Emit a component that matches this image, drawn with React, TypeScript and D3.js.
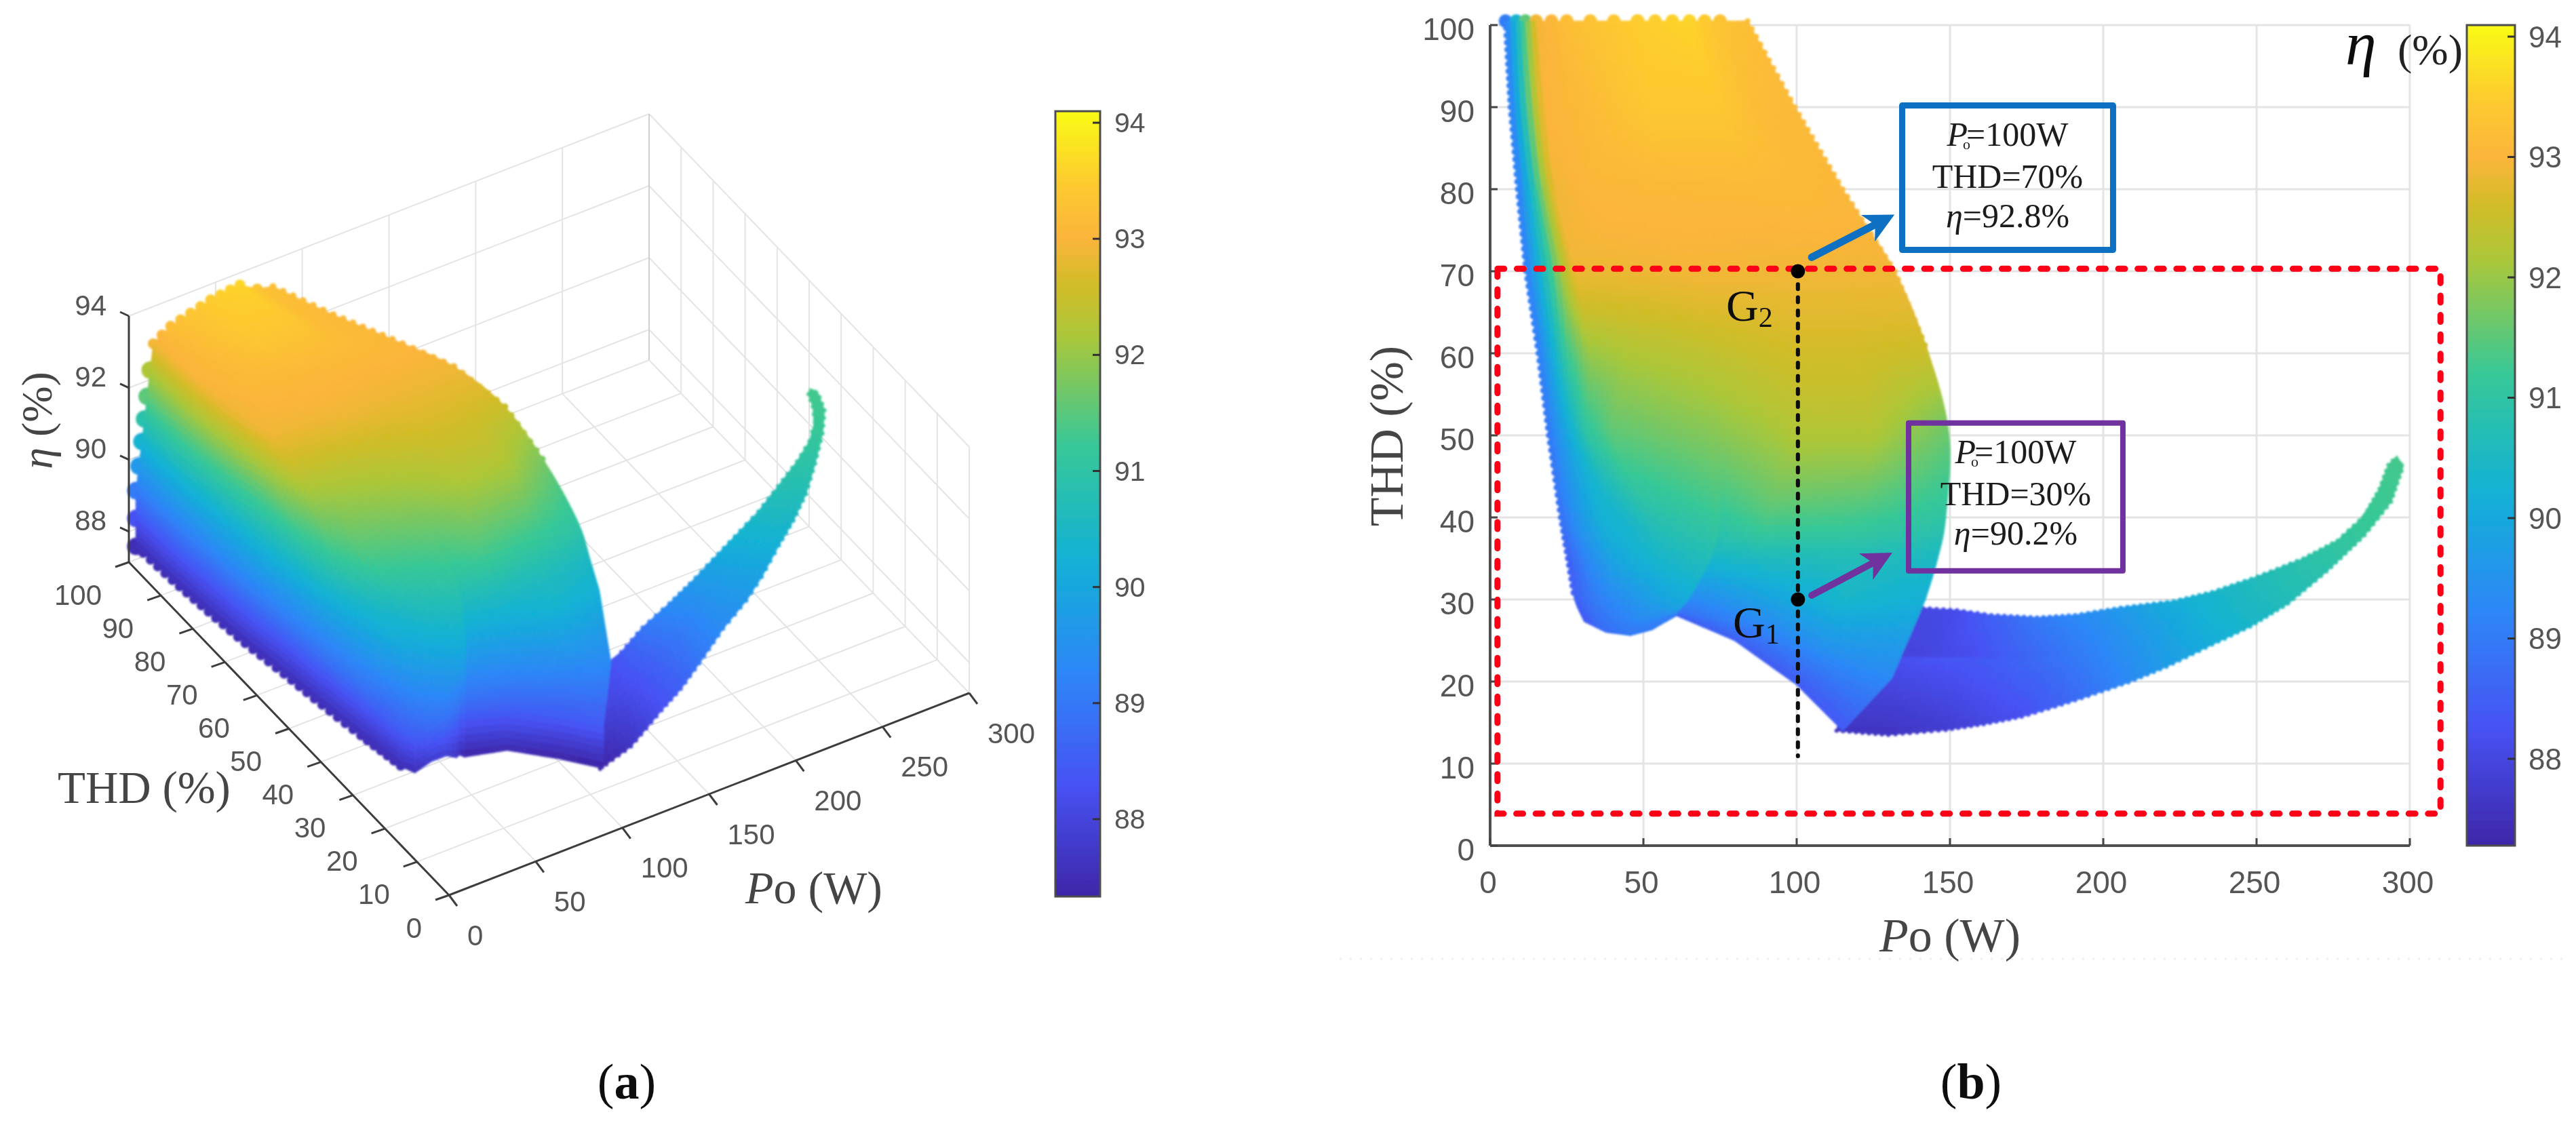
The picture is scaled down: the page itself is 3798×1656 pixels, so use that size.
import React, { useMemo } from "react";
import * as d3 from "d3";

// ---------- values ----------
const PO_TICKS = [0, 50, 100, 150, 200, 250, 300];
const THD_TICKS = [0, 10, 20, 30, 40, 50, 60, 70, 80, 90, 100];
const ETA_3D_TICKS = [88, 90, 92, 94];
const ETA_BAR_TICKS = [88, 89, 90, 91, 92, 93, 94];

const ETA_STOPS = [87.28, 88.25, 89.23, 90.2, 91.2, 92.15, 92.6, 93.0, 93.5, 94.1];
const ETA_COLORS = ["#3e26a8", "#4752f4", "#2d87f7", "#12b1d6", "#37c897", "#abc739", "#d2bc28", "#fbb53b", "#fdcc2e", "#f9fb15"];

// main wing of the operating surface: rows run from THD=100 down to the lower rim, columns left to right.
// Columns 6 and 7 sit on the fold that bounds the low-power lobe.
const WING_PO = [
  [5, 8.5, 11.5, 15, 25, 48, 48.2, 65, 75, 84],
  [6.6, 10, 14, 17.7, 30, 52, 52.2, 75, 88, 99.4],
  [9, 13, 17, 21, 33, 60, 60.2, 85, 100, 115],
  [11.7, 17, 22.8, 27.5, 40, 68, 68.2, 95, 115, 132],
  [15.7, 20.4, 25, 32, 45, 72, 72.2, 100, 120, 143],
  [19.1, 23, 27, 32, 40, 74, 74.2, 100, 125, 149.7],
  [23, 28.3, 36, 44, 52, 75, 75.2, 90, 120, 148.6],
  [25.3, 32, 40, 48, 56, 72, 72.2, 90, 120, 146],
  [27.5, 34, 40, 48, 56, 65, 65.2, 87.5, 115, 142],
  [28.5, 34, 40, 48, 56, 61.5, 61.7, 88, 110, 131],
  [30.7, 37.8, 45.7, 52.8, 56, 60.7, 60.9, 79.7, 100, 115],
];
const WING_THD = [
  [100.5, 100.5, 100.5, 100.5, 100.5, 100.5, 100.5, 100.5, 100.5, 100.5],
  [90, 90, 90, 90, 90, 90, 90, 90, 90, 90],
  [80, 80, 80, 80, 80, 80, 80, 80, 80, 80],
  [70, 70, 70, 70, 70, 70, 70, 70, 70, 70],
  [60, 60, 60, 60, 60, 60, 60, 60, 60, 60],
  [50, 50, 50, 50, 50, 50, 50, 50, 50, 50],
  [40, 40, 40, 40, 40, 40, 40, 40, 40, 40],
  [35, 35, 35, 35, 35, 35, 35, 35, 35, 35],
  [30, 30, 30, 30, 30, 30, 30, 30, 30, 30],
  [29, 28, 27.5, 27.5, 28.5, 28.6, 28.4, 26.5, 24, 20.4],
  [27.3, 26, 25.6, 26.3, 27, 28, 28, 25, 19.6, 14],
];
const WING_ETA = [
  [89, 90.3, 91.5, 92.9, 93.2, 93.5, 93.5, 93.6, 93.3, 93.2],
  [89, 90.3, 92, 93, 93.1, 93.4, 93.4, 93.4, 93.15, 93.1],
  [89, 90.3, 91.8, 92.9, 93.05, 93.08, 93.08, 93.1, 93.1, 93.05],
  [89, 90.4, 92, 92.85, 92.85, 92.92, 92.92, 92.9, 92.9, 92.9],
  [89, 90.1, 91.2, 92, 92.2, 92.4, 92.4, 92.6, 92.6, 92.5],
  [88.9, 89.6, 90.2, 91, 91.5, 91.85, 91.85, 92.2, 92.2, 91.6],
  [88.8, 89.5, 90.2, 90.4, 90.8, 91.2, 91.1, 91.4, 91.3, 91],
  [88.5, 89.3, 89.9, 90.2, 90.4, 90.7, 90.4, 90.6, 90.7, 90.5],
  [88.5, 89, 89.3, 89.6, 89.9, 90.1, 89.3, 89.8, 90.4, 90.2],
  [88.4, 88.8, 89, 89.3, 89.6, 89.8, 88.8, 89.2, 89.5, 89.3],
  [88.4, 88.8, 89, 89, 88.9, 88.7, 88.5, 88.5, 88.4, 88.4],
];
// lowest efficiency reached under the wing's left edge, and under each column of the lower rim
const WALL_ETA = 87.45;
const RIM_WALL_ETA = [87.45, 87.75, 87.8, 87.55, 87.5, 87.26, 87.26, 87.37, 87.25, 87.22];

// tail of the surface: rows from the upper rim to the lower rim
const TAIL_PO = [
  [139, 152.3, 163.5, 178.4, 190.8, 205.7, 223, 235.5, 250.4, 265.3, 276.5, 285.2, 290.1, 293, 295.8],
  [118, 139, 155, 167, 180, 194, 210, 223, 236, 249, 263, 275, 285.2, 292, 296.5],
  [118, 139, 155, 167, 180, 194, 210, 223, 236, 249, 263, 275, 285.2, 292, 296.5],
  [113, 129.9, 148.6, 161, 173.4, 190.8, 208.2, 220.6, 235.5, 247.9, 260.3, 272.8, 285.2, 293.9, 298],
];
const TAIL_THD = [
  [29, 28.7, 28.1, 27.8, 28.1, 29, 29.8, 30.9, 32.8, 35, 37.2, 40.2, 43.5, 46.4, 47.5],
  [23, 23, 23, 22.7, 23, 24, 25, 26.3, 28, 30, 32.5, 36, 39.2, 43, 47],
  [22.9, 22.9, 22.9, 22.6, 23, 24, 25, 26.3, 28, 30, 32.5, 36, 39.2, 43, 47],
  [14, 13.5, 14.1, 14.8, 15.7, 17.7, 19.9, 21.8, 24.5, 26.7, 29.5, 33.4, 37.8, 41.9, 46.4],
];
// efficiency as the plan view (b) shows it
const TAIL_ETA = [
  [88, 88.1, 88.5, 88.95, 89.3, 89.65, 90.15, 90.4, 90.65, 90.9, 91.1, 91.2, 91.25, 91.3, 91.3],
  [87.9, 87.95, 88.1, 88.4, 88.7, 89.1, 89.55, 89.95, 90.3, 90.55, 90.8, 91, 91.2, 91.25, 91.3],
  [88.05, 88.25, 88.35, 88.5, 88.75, 89.1, 89.55, 89.95, 90.3, 90.55, 90.8, 91, 91.2, 91.25, 91.3],
  [87.6, 87.6, 87.8, 88, 88.2, 88.7, 89.3, 89.7, 90.1, 90.4, 90.65, 90.9, 91.15, 91.25, 91.3],
];
// efficiency as the oblique view (a) shows it: the upper sheet of the tail
const TAIL_ETA_3D = [
  [88.1, 88.4, 88.93, 89.35, 89.64, 89.95, 90.35, 90.55, 90.8, 91, 91.15, 91.25, 91.28, 91.3, 91.3],
  [88, 88.1, 88.4, 88.75, 89.1, 89.5, 89.85, 90.15, 90.45, 90.65, 90.85, 91.05, 91.2, 91.25, 91.3],
  [88, 88.1, 88.4, 88.75, 89.1, 89.5, 89.85, 90.15, 90.45, 90.65, 90.85, 91.05, 91.2, 91.25, 91.3],
  [87.25, 87.6, 88.2, 88.5, 88.9, 89.35, 89.6, 89.85, 90.2, 90.45, 90.7, 90.95, 91.15, 91.25, 91.3],
];

// annotations of panel (b), in data units
const G_PO = 100.4;
const G2_THD = 70;
const G1_THD = 30;
const G_LINE_END_THD = 10.9;
const RED_BOX = { po: [2.4, 310], thd: [3.9, 70.3] };
const BLUE_BOX = { po: [134.4, 203.2], thd: [72.6, 90.2], color: "#0a6fc2", lines: ["100W", "THD=70%", "92.8%"], arrow: [104.9, 71.7, 131.9, 76.9] };
const PURPLE_BOX = { po: [136.5, 206.4], thd: [33.5, 51.5], color: "#6f329e", lines: ["100W", "THD=30%", "90.2%"], arrow: [104.9, 30.5, 131.2, 35.7] };

// ---------- layout ----------
const W = 3798;
const H = 1656;
const SANS = "'Liberation Sans', Arial, sans-serif";
const SERIF = "'Liberation Serif', 'Times New Roman', serif";
const TICK_COLOR = "#545454";
const TITLE_COLOR = "#444";
const GRID = "#e4e4e4";

const bx = d3.scaleLinear([0, 300], [2197, 3553]);
const by = d3.scaleLinear([0, 100], [1247, 37]);
const barB = d3.scaleLinear([94, 88], [54, 1119]);
const barA = d3.scaleLinear([94, 88], [181, 1208]);
const color = d3.scaleLinear<string>().domain(ETA_STOPS).range(ETA_COLORS).interpolate(d3.interpolateRgb).clamp(true);

// panel (a): axis vectors of the oblique view
const O = { x: 662, y: 1320 };
const ax3 = { poX: d3.scaleLinear([0, 300], [0, 767]), poY: d3.scaleLinear([0, 300], [0, -298]), tX: d3.scaleLinear([0, 100], [0, -472]), tY: d3.scaleLinear([0, 100], [0, -491]), z: d3.scaleLinear([87.15, 94], [0, -363]) };
type V = { po: number; t: number; e: number };
type P = [number, number];
const proj3 = (po: number, t: number, e: number): P => [O.x + ax3.poX(po) + ax3.tX(t), O.y + ax3.poY(po) + ax3.tY(t) + ax3.z(e)];
const proj2 = (po: number, t: number): P => [bx(po), by(t)];
const depth3 = (po: number, t: number, e: number) => -(ax3.poY(po) + ax3.tY(t)) * 0.93 + ax3.z(e) * 1.07;

type Sheet = V[][];
const toSheet = (po: number[][], t: number[][], e: number[][]): Sheet => po.map((r, j) => r.map((p, k) => ({ po: p, t: t[j][k], e: e[j][k] })));

function wingSheet(): Sheet {
  const base = toSheet(WING_PO, WING_THD, WING_ETA);
  // the walls: same Po/THD, falling to the lowest efficiency
  const walled = base.map((r) => [{ ...r[0], e: WALL_ETA }, ...r]);
  const last = walled[walled.length - 1];
  const bottom = last.map((v, i) => ({ ...v, e: i === 0 ? WALL_ETA : RIM_WALL_ETA[i - 1] }));
  return [...walled, bottom];
}

type Cell = { d: string; fill: string; key: number };
const dist = (a: P, b: P) => Math.hypot(a[0] - b[0], a[1] - b[1]);
const lerp = (a: number, b: number, t: number) => a + (b - a) * t;
const cr = (p0: number, p1: number, p2: number, p3: number, t: number) =>
  0.5 * (2 * p1 + (p2 - p0) * t + (2 * p0 - 5 * p1 + 4 * p2 - p3) * t * t + (3 * p1 - p0 - 3 * p2 + p3) * t * t * t);

function cells(sheet: Sheet, screen: (v: V) => P, step: number, keyOf: (v: V) => number, smoothMax: number): Cell[] {
  const out: Cell[] = [];
  for (let j = 0; j < sheet.length - 1; j++) {
    for (let k = 0; k < sheet[j].length - 1; k++) {
      const a = sheet[j][k], b = sheet[j][k + 1], c = sheet[j + 1][k + 1], d = sheet[j + 1][k];
      const at = (u: number, v: number): V => {
        const f = (key: keyof V) => {
          const row = (jj: number) => lerp(sheet[jj][k][key], sheet[jj][k + 1][key], u);
          if (j < smoothMax) {
            const cl = (x: number) => Math.max(0, Math.min(smoothMax, x));
            return cr(row(cl(j - 1)), row(j), row(j + 1), row(cl(j + 2)), v);
          }
          return lerp(row(j), row(j + 1), v);
        };
        return { po: f("po"), t: f("t"), e: f("e") };
      };
      const [A, B, C, D] = [a, b, c, d].map(screen);
      const area = Math.abs((C[0] - A[0]) * (D[1] - B[1]) - (D[0] - B[0]) * (C[1] - A[1])) / 2;
      if (area < 1) continue;
      const n = Math.min(60, Math.max(1, Math.ceil(Math.max(dist(A, B), dist(D, C)) / step)));
      const m = Math.min(60, Math.max(1, Math.ceil(Math.max(dist(A, D), dist(B, C)) / step)));
      for (let i = 0; i < n; i++) {
        for (let q = 0; q < m; q++) {
          const v00 = screen(at(i / n, q / m));
          const v10 = screen(at((i + 1) / n, q / m));
          const v11 = screen(at((i + 1) / n, (q + 1) / m));
          const v01 = screen(at(i / n, (q + 1) / m));
          const mid = at((i + 0.5) / n, (q + 0.5) / m);
          out.push({
            d: `M${v00[0].toFixed(1)} ${v00[1].toFixed(1)}L${v10[0].toFixed(1)} ${v10[1].toFixed(1)}L${v11[0].toFixed(1)} ${v11[1].toFixed(1)}L${v01[0].toFixed(1)} ${v01[1].toFixed(1)}Z`,
            fill: color(mid.e),
            key: keyOf(mid),
          });
        }
      }
    }
  }
  return out;
}

type Dot = { x: number; y: number; r: number; fill: string };
function walk(vs: V[], screen: (v: V) => P, spacing: number, r: number): Dot[] {
  const out: Dot[] = [];
  for (let i = 0; i < vs.length - 1; i++) {
    const a = vs[i], b = vs[i + 1];
    const n = Math.max(1, Math.round(dist(screen(a), screen(b)) / spacing));
    for (let q = 0; q < n; q++) {
      const t = q / n;
      const v = { po: lerp(a.po, b.po, t), t: lerp(a.t, b.t, t), e: lerp(a.e, b.e, t) };
      const [x, y] = screen(v);
      out.push({ x, y, r, fill: color(v.e) });
    }
  }
  return out;
}

const Tick = ({ x, y, t, anchor = "middle", size, fill = TICK_COLOR }: any) => (
  <text x={x} y={y} textAnchor={anchor} dominantBaseline="central" fontFamily={SANS} fontSize={size} fill={fill}>{t}</text>
);

function Arrow({ a, col, w }: { a: number[]; col: string; w: number }) {
  const [x0, y0] = proj2(a[0], a[1]);
  const [x1, y1] = proj2(a[2], a[3]);
  const ang = Math.atan2(y1 - y0, x1 - x0);
  const ca = Math.cos(ang), sa = Math.sin(ang);
  const pt = (l: number, s: number) => `${x1 - ca * l - sa * s} ${y1 - sa * l + ca * s}`;
  return (
    <g>
      <line x1={x0} y1={y0} x2={x1 - ca * 28} y2={y1 - sa * 28} stroke={col} strokeWidth={w} strokeLinecap="round" />
      <path d={`M${x1} ${y1}L${pt(44, 22)}L${pt(32, 0)}L${pt(44, -22)}Z`} fill={col} />
    </g>
  );
}

function InfoBox({ box, sw }: { box: typeof BLUE_BOX; sw: number }) {
  const x0 = bx(box.po[0]), x1 = bx(box.po[1]), y0 = by(box.thd[1]), y1 = by(box.thd[0]);
  const cx = (x0 + x1) / 2;
  const base = y0 + 59;
  const tp = { fontFamily: SERIF, fontSize: 50, fill: "#1a1a1a", textAnchor: "middle" as const };
  return (
    <g>
      <rect x={x0} y={y0} width={x1 - x0} height={y1 - y0} fill="none" stroke={box.color} strokeWidth={sw} strokeLinejoin="round" />
      <text x={cx} y={base} {...tp}>
        <tspan fontStyle="italic">P</tspan>
        <tspan fontSize={22} dx={-7} dy={5}>o</tspan>
        <tspan dx={-6} dy={-5}>={box.lines[0]}</tspan>
      </text>
      <text x={cx} y={base + 62} {...tp}>{box.lines[1]}</text>
      <text x={cx} y={base + 120} {...tp}>
        <tspan fontStyle="italic">η</tspan>={box.lines[2]}
      </text>
    </g>
  );
}

function ColorBar({ x0, x1, top, bottom, scale, tickLen, labelX, size, id }: any) {
  return (
    <g>
      <defs>
        <linearGradient id={id} x1="0" y1="1" x2="0" y2="0">
          {ETA_STOPS.map((s, i) => (
            <stop key={s} offset={(s - ETA_STOPS[0]) / (94.1 - ETA_STOPS[0])} stopColor={ETA_COLORS[i]} />
          ))}
        </linearGradient>
      </defs>
      <rect x={x0} y={top} width={x1 - x0} height={bottom - top} fill={`url(#${id})`} stroke="#4d4d4d" strokeWidth={3} />
      {ETA_BAR_TICKS.map((t) => (
        <g key={t}>
          <line x1={x1 - tickLen} x2={x1} y1={scale(t)} y2={scale(t)} stroke="#333" strokeWidth={3} />
          <Tick x={labelX} y={scale(t)} t={t} anchor="start" size={size} />
        </g>
      ))}
    </g>
  );
}

function Panel3D() {
  const { cellsA, dots } = useMemo(() => {
    const wing = wingSheet();
    const tail = toSheet(TAIL_PO, TAIL_THD, TAIL_ETA_3D);
    const scr = (v: V) => proj3(v.po, v.t, v.e);
    const key = (v: V) => depth3(v.po, v.t, v.e);
    const all = [...cells(wing, scr, 11, key, 8), ...cells(tail, scr, 11, key, 0)].sort((a, b) => b.key - a.key);
    const top = wing[0];
    const wallTop: V[] = [{ ...top[1], e: WALL_ETA }, top[1], top[2], top[3], top[4]];
    const d: Dot[] = [
      ...walk(wallTop, scr, 44, 13),
      ...walk(top.slice(4), scr, 18, 8),
      ...walk(wing.map((r) => r[r.length - 1]).slice(0, 6), scr, 16, 5),
      ...walk(wing.map((r) => ({ ...r[1], e: WALL_ETA })).slice(0, 10), scr, 14, 7),
      ...walk(tail[0].slice(1), scr, 12, 3),
      ...walk(tail[tail.length - 1], scr, 12, 3),
    ];
    return { cellsA: all, dots: d };
  }, []);

  const l3 = (a: P, b: P, k: string, stroke = GRID, sw = 2) => <line key={k} x1={a[0]} y1={a[1]} x2={b[0]} y2={b[1]} stroke={stroke} strokeWidth={sw} />;
  const zMin = ax3.z.domain()[0];
  const zMax = ax3.z.domain()[1];
  return (
    <g>
      {PO_TICKS.map((p) => l3(proj3(p, 0, zMin), proj3(p, 100, zMin), `fp${p}`))}
      {THD_TICKS.map((t) => l3(proj3(0, t, zMin), proj3(300, t, zMin), `ft${t}`))}
      {PO_TICKS.map((p) => l3(proj3(p, 100, zMin), proj3(p, 100, zMax), `wp${p}`))}
      {THD_TICKS.map((t) => l3(proj3(300, t, zMin), proj3(300, t, zMax), `wt${t}`))}
      {ETA_3D_TICKS.map((e) => l3(proj3(0, 100, e), proj3(300, 100, e), `we${e}`))}
      {ETA_3D_TICKS.map((e) => l3(proj3(300, 100, e), proj3(300, 0, e), `wf${e}`))}
      {l3(proj3(300, 100, zMin), proj3(300, 100, zMax), "corner", "#cfcfcf")}

      <g filter="url(#soft)">
        {dots.map((d, i) => <circle key={i} cx={d.x} cy={d.y} r={d.r} fill={d.fill} />)}
        {cellsA.map((c, i) => <path key={i} d={c.d} fill={c.fill} stroke={c.fill} strokeWidth={1.2} />)}
      </g>

      {l3(proj3(0, 0, zMin), proj3(300, 0, zMin), "axp", "#3c3c3c", 3)}
      {l3(proj3(0, 0, zMin), proj3(0, 100, zMin), "axt", "#3c3c3c", 3)}
      {l3(proj3(0, 100, zMin), proj3(0, 100, zMax), "axz", "#3c3c3c", 3)}
      {PO_TICKS.map((p) => {
        const a = proj3(p, 0, zMin);
        return (
          <g key={`pt${p}`}>
            {l3(a, [a[0] + 12, a[1] + 16], `ptl${p}`, "#3c3c3c", 3)}
            <Tick x={a[0] + 27} y={a[1] + 59} t={p} anchor="start" size={42} />
          </g>
        );
      })}
      {THD_TICKS.map((t) => {
        const a = proj3(0, t, zMin);
        return (
          <g key={`tt${t}`}>
            {l3(a, [a[0] - 20, a[1] + 7], `ttl${t}`, "#3c3c3c", 3)}
            <Tick x={a[0] - 40} y={a[1] + 48} t={t} anchor="end" size={42} />
          </g>
        );
      })}
      {ETA_3D_TICKS.map((e) => {
        const a = proj3(0, 100, e);
        return (
          <g key={`zt${e}`}>
            {l3(a, [a[0] - 13, a[1] - 6], `ztl${e}`, "#3c3c3c", 3)}
            <Tick x={157} y={a[1] - 16} t={e} anchor="end" size={42} />
          </g>
        );
      })}
      <text x={85} y={1184} fontFamily={SERIF} fontSize={67} fill={TITLE_COLOR}>THD (%)</text>
      <text x={1099} y={1332} fontFamily={SERIF} fontSize={68} fill={TITLE_COLOR}><tspan fontStyle="italic">P</tspan>o (W)</text>
      <text transform="translate(76,620) rotate(-90)" textAnchor="middle" fontFamily={SERIF} fontSize={64} fill={TITLE_COLOR}><tspan fontStyle="italic">η</tspan> (%)</text>
      <ColorBar id="barA" x0={1556} x1={1622} top={164} bottom={1322} scale={barA} tickLen={11} labelX={1643} size={41} />
      <text x={924} y={1620} textAnchor="middle" fontFamily={SERIF} fontSize={74} fill="#111">(<tspan fontWeight="bold">a</tspan>)</text>
    </g>
  );
}

function Panel2D() {
  const { cellsB, dots } = useMemo(() => {
    const wing = wingSheet();
    const tail = toSheet(TAIL_PO, TAIL_THD, TAIL_ETA);
    const scr = (v: V) => proj2(v.po, v.t);
    const key = () => 0;
    const all = [...cells(tail, scr, 12, key, 0), ...cells(wing, scr, 10, key, 8)];
    const d: Dot[] = [
      ...walk(tail[0], scr, 10, 3),
      ...walk(tail[tail.length - 1], scr, 10, 3),
      ...walk(wing.map((r) => r[1]).slice(0, 9), scr, 11, 4),
      ...walk(wing[0].slice(1), scr, 30, 10),
      ...walk(wing.map((r) => r[r.length - 1]).slice(0, 5), scr, 13, 4),
    ];
    return { cellsB: all, dots: d };
  }, []);
  return (
    <g>
      <line x1={1975} x2={3780} y1={1414} y2={1414} stroke="#efefef" strokeWidth={3} strokeDasharray="3 12" />
      {PO_TICKS.map((p) => <line key={p} x1={bx(p)} x2={bx(p)} y1={by(0)} y2={by(100)} stroke={GRID} strokeWidth={3} />)}
      {THD_TICKS.map((t) => <line key={t} x1={bx(0)} x2={bx(300)} y1={by(t)} y2={by(t)} stroke={GRID} strokeWidth={3} />)}
      <g filter="url(#soft)">
        {dots.map((d, i) => <circle key={i} cx={d.x} cy={d.y} r={d.r} fill={d.fill} />)}
        {cellsB.map((c, i) => <path key={i} d={c.d} fill={c.fill} stroke={c.fill} strokeWidth={1.2} />)}
      </g>
      <line x1={bx(0)} x2={bx(300)} y1={by(0)} y2={by(0)} stroke="#505050" strokeWidth={4} />
      <line x1={bx(0)} x2={bx(0)} y1={by(0)} y2={by(100)} stroke="#505050" strokeWidth={4} />
      {PO_TICKS.map((p) => (
        <g key={p}>
          <line x1={bx(p)} x2={bx(p)} y1={by(0)} y2={by(0) - 11} stroke="#444" strokeWidth={3} />
          <Tick x={bx(p) - 3} y={by(0) + 54} t={p} size={46} />
        </g>
      ))}
      {THD_TICKS.map((t) => (
        <g key={t}>
          <line x1={bx(0)} x2={bx(0) + 11} y1={by(t)} y2={by(t)} stroke="#444" strokeWidth={3} />
          <Tick x={2174} y={by(t) + 6} t={t} anchor="end" size={46} />
        </g>
      ))}
      <rect x={bx(RED_BOX.po[0])} y={by(RED_BOX.thd[1])} width={bx(RED_BOX.po[1]) - bx(RED_BOX.po[0])} height={by(RED_BOX.thd[0]) - by(RED_BOX.thd[1])} fill="none" stroke="#fb0015" strokeWidth={9} strokeDasharray="10 18.6" strokeLinecap="round" />
      <line x1={bx(G_PO)} x2={bx(G_PO)} y1={by(G2_THD)} y2={by(G_LINE_END_THD)} stroke="#0a0a0a" strokeWidth={6} strokeDasharray="7 12.3" strokeLinecap="round" />
      <circle cx={bx(G_PO)} cy={by(G2_THD)} r={10.5} fill="#050505" />
      <circle cx={bx(G_PO)} cy={by(G1_THD)} r={10.5} fill="#050505" />
      <text x={bx(77)} y={by(64)} fontFamily={SERIF} fontSize={66} fill="#111">G<tspan fontSize={42} dy={9}>2</tspan></text>
      <text x={bx(79.2)} y={by(25.4)} fontFamily={SERIF} fontSize={66} fill="#111">G<tspan fontSize={42} dy={9}>1</tspan></text>
      <Arrow a={BLUE_BOX.arrow} col={BLUE_BOX.color} w={11} />
      <Arrow a={PURPLE_BOX.arrow} col={PURPLE_BOX.color} w={10} />
      <InfoBox box={BLUE_BOX} sw={9} />
      <InfoBox box={PURPLE_BOX} sw={8} />
      <text transform="translate(2068,643) rotate(-90)" textAnchor="middle" fontFamily={SERIF} fontSize={70} fill={TITLE_COLOR}>THD (%)</text>
      <text x={2875} y={1403} textAnchor="middle" fontFamily={SERIF} fontSize={70} fill={TITLE_COLOR}><tspan fontStyle="italic">P</tspan>o (W)</text>
      <text x={3458} y={95} fontFamily={SERIF} fontSize={92} fontStyle="italic" fill="#111">η</text>
      <text x={3535} y={95} fontFamily={SERIF} fontSize={64} fill="#222">(%)</text>
      <ColorBar id="barB" x0={3637} x1={3708} top={37} bottom={1247} scale={barB} tickLen={11} labelX={3728} size={44} />
      <text x={2906} y={1620} textAnchor="middle" fontFamily={SERIF} fontSize={74} fill="#111">(<tspan fontWeight="bold">b</tspan>)</text>
    </g>
  );
}

export default function App() {
  return (
    <svg width={W} height={H} viewBox={`0 0 ${W} ${H}`} style={{ position: "absolute", left: 0, top: 0, display: "block", background: "#fff" }}>
      <defs>
        <filter id="soft" x="-5%" y="-5%" width="110%" height="110%">
          <feGaussianBlur stdDeviation={1.6} />
        </filter>
        <filter id="page" filterUnits="userSpaceOnUse" x="0" y="0" width={W} height={H}>
          <feGaussianBlur stdDeviation={0.7} />
        </filter>
      </defs>
      <g filter="url(#page)">
        <Panel3D />
        <Panel2D />
      </g>
    </svg>
  );
}
